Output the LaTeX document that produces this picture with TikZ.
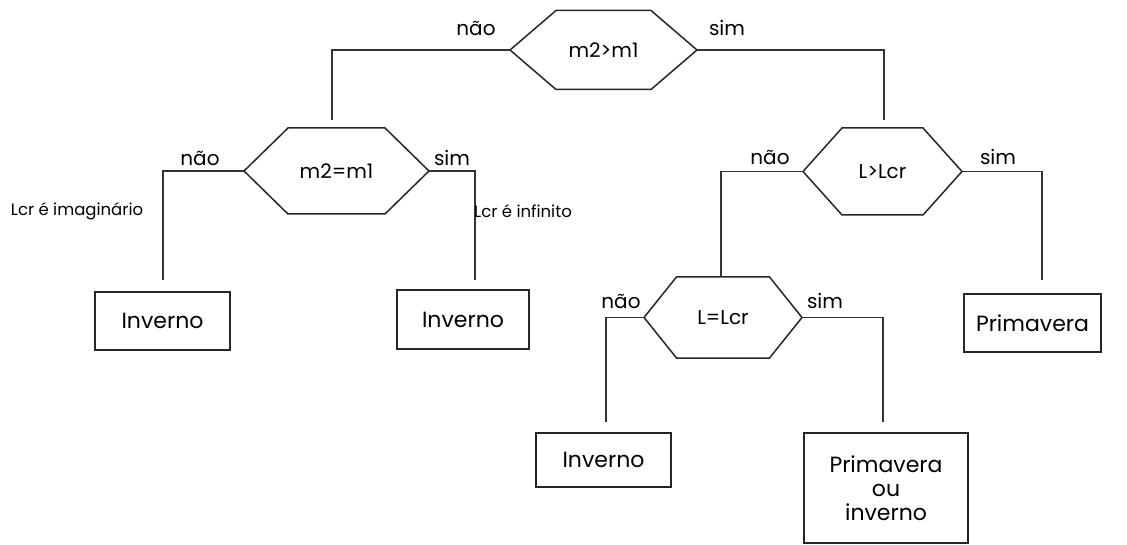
\documentclass[tikz,border=0pt]{standalone}
\usepackage{fontspec}
\setmainfont{Poppins}
% hexagonal decision: name, centre x, centre y, half top edge, tip length, half height, text
\newcommand\hexcond[7]{%
  \node[cond] (#1) at (#2,#3) {#7};
  \coordinate (#1-l) at ({#2-#4-#5},#3);
  \coordinate (#1-r) at ({#2+#4+#5},#3);
  \draw[hexline] (#1-l) -- ({#2-#4},{#3-#6}) -- ({#2+#4},{#3-#6}) -- (#1-r)
    -- ({#2+#4},{#3+#6}) -- ({#2-#4},{#3+#6}) -- cycle;
}
\begin{document}
\begin{tikzpicture}[x=1pt,y=-1pt,
  wire/.style={draw=black!80, line width=1.3pt},
  hexline/.style={draw=black!85, line width=1.5pt, line join=miter},
  outbox/.style={draw=black!85, line width=1.5pt, align=center, inner sep=0pt,
    font=\fontsize{22}{24}\selectfont},
  cond/.style={font=\fontsize{20}{24}\selectfont, inner sep=0pt},
  ans/.style={font=\fontsize{20}{22}\selectfont, inner sep=0pt},
  note/.style={font=\fontsize{16.5}{18}\selectfont, inner sep=0pt}]
\useasboundingbox (0,0) rectangle (1127,545);

% decisions
\hexcond{h1}{603.5}{50}{47.5}{46}{39.5}{m2>m1}
\hexcond{h2}{336.5}{171}{48.5}{44}{43}{m2=m1}
\hexcond{h3}{882.5}{171.5}{40.5}{39}{43.5}{L>Lcr}
\hexcond{h4}{723}{317.5}{46.5}{32.5}{40.5}{L=Lcr}

% outcomes
\node[outbox, minimum width=135pt, minimum height=58pt] (o1) at (162.5,321) {Inverno};
\node[outbox, minimum width=132pt, minimum height=59pt] (o2) at (463,319.5) {Inverno};
\node[outbox, minimum width=137pt, minimum height=58pt] (o3) at (1032.5,323) {Primavera};
\node[outbox, minimum width=135pt, minimum height=54pt] (o4) at (603.5,460) {Inverno};
\node[outbox, minimum width=164pt, minimum height=110pt] (o5) at (886,488) {Primavera\\ou\\inverno};

% free ends of the branches
\coordinate (e1) at (332,120);
\coordinate (e2) at (884,120);
\coordinate (e3) at (163,280);
\coordinate (e4) at (475,280);
\coordinate (e5) at (721,277);
\coordinate (e6) at (1042,280);
\coordinate (e7) at (606,422);
\coordinate (e8) at (883,422);

\draw[wire] (h1-l) -| (e1);
\draw[wire] (h1-r) -| (e2);
\draw[wire] (h2-l) -| (e3);
\draw[wire] (h2-r) -| (e4);
\draw[wire] (h3-l) -| (e5);
\draw[wire] (h3-r) -| (e6);
\draw[wire] (h4-l) -| (e7);
\draw[wire] (h4-r) -| (e8);

% branch labels
\node[ans] (n1) at (476,28) {não};
\node[ans] (s1) at (727,28) {sim};
\node[ans] (n2) at (200,158) {não};
\node[ans] (s2) at (452,158) {sim};
\node[ans] (n3) at (770,157) {não};
\node[ans] (s3) at (998,157) {sim};
\node[ans] (n4) at (621,301) {não};
\node[ans] (s4) at (825,301) {sim};
\node[note] (c1) at (77,211) {Lcr é imaginário};
\node[note, anchor=west] (c2) at (474,211) {Lcr é infinito};
\end{tikzpicture}
\end{document}
